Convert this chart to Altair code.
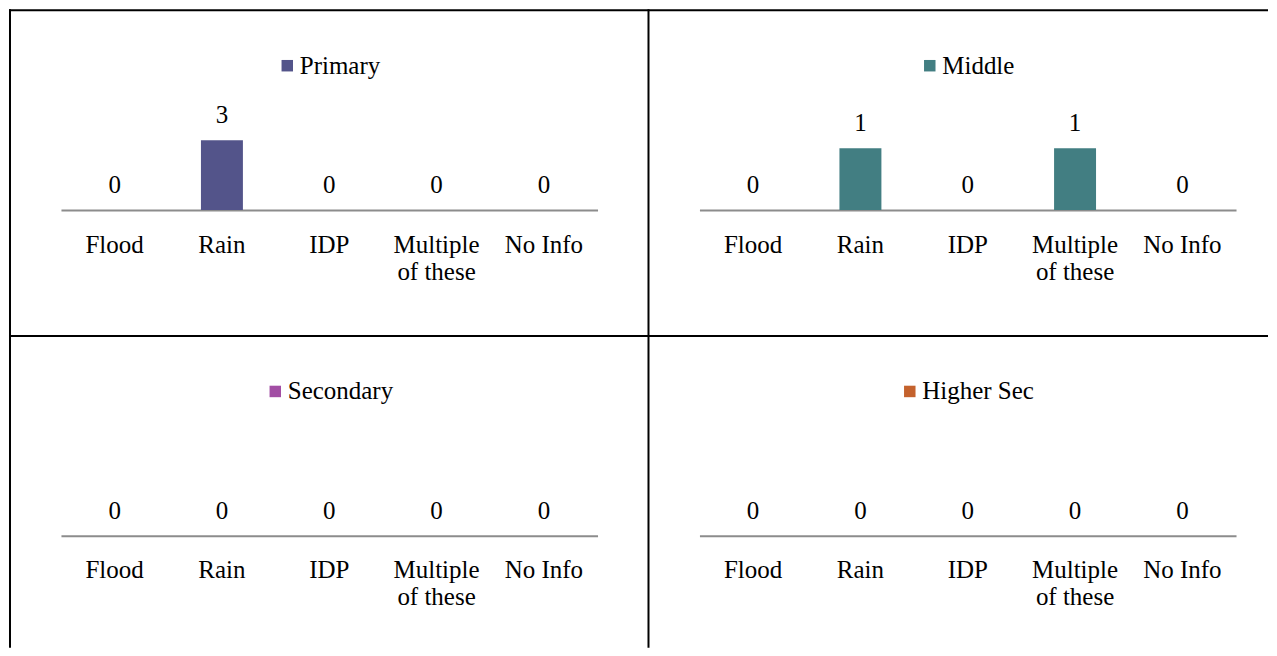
import altair as alt
import pandas as pd

categories = ["Flood", "Rain", "IDP", "Multiple of these", "No Info"]
levels = ["Primary", "Middle", "Secondary", "Higher Sec"]
primary = [0, 3, 0, 0, 0]
middle = [0, 1, 0, 1, 0]
secondary = [0, 0, 0, 0, 0]
higher_sec = [0, 0, 0, 0, 0]
series = [primary, middle, secondary, higher_sec]

colors = ["#53548A", "#427E82", "#A24EA4", "#C4622D"]
FONT = "Liberation Serif"
W, H = 537, 160
# y-domain maxima chosen so bar heights match the reference's per-panel scales
ymax = [3 * H / 70, H / 62, 1, 1]
legend_x = [211, 215, 199, 195]

label_expr = "datum.label == 'Multiple of these' ? ['Multiple', 'of these'] : datum.label"


def panel(i, with_borders=False):
    df = pd.DataFrame({"category": categories, "value": series[i], "level": levels[i]})
    base = alt.Chart(df).encode(
        x=alt.X(
            "category:N",
            sort=categories,
            scale=alt.Scale(paddingInner=0, paddingOuter=0),
            axis=alt.Axis(
                title=None, labelAngle=0, ticks=False, tickSize=0, grid=False,
                domainColor="#8C8C8C", domainWidth=2,
                labelFont=FONT, labelFontSize=25, labelColor="black",
                labelPadding=22, labelLineHeight=27, labelExpr=label_expr,
            ),
        ),
        y=alt.Y("value:Q", scale=alt.Scale(domain=[0, ymax[i]], nice=False), axis=None),
    )
    bars = base.mark_bar(size=42).encode(
        color=alt.Color(
            "level:N",
            scale=alt.Scale(domain=[levels[i]], range=[colors[i]]),
            legend=alt.Legend(
                orient="none", legendX=legend_x[i], legendY=3, title=None,
                symbolType="square", symbolSize=132, symbolStrokeWidth=0,
                symbolOffset=3,
                labelFont=FONT, labelFontSize=25, labelColor="black",
                labelOffset=0, padding=0,
            ),
        )
    )
    labels = base.mark_text(
        baseline="middle", dy=-25, font=FONT, fontSize=25, color="black"
    ).encode(text=alt.Text("value:Q"))
    layers = [bars, labels]
    if with_borders:
        rd = pd.DataFrame({"k": [0]})
        r = alt.Chart(rd).mark_rule(color="black", strokeWidth=2)
        layers += [
            r.encode(x=alt.value(-52), x2=alt.value(1208), y=alt.value(-40)),
            r.encode(x=alt.value(-52), x2=alt.value(1208), y=alt.value(286)),
            r.encode(x=alt.value(-51), y=alt.value(-41), y2=alt.value(598)),
            r.encode(x=alt.value(588), y=alt.value(-41), y2=alt.value(598)),
        ]
    return alt.layer(*layers).properties(width=W, height=H)


chart = (
    alt.concat(
        panel(0, with_borders=True), panel(1), panel(2), panel(3),
        columns=2,
        spacing={"row": 166, "column": 102},
        bounds="flush",
    )
    .resolve_scale(y="independent", color="independent", x="independent")
    .resolve_legend(color="independent")
    .properties(padding=0, background="white")
    .configure_view(stroke=None)
)

chart.save("out.html", embed_options={"renderer": "svg", "actions": False})
